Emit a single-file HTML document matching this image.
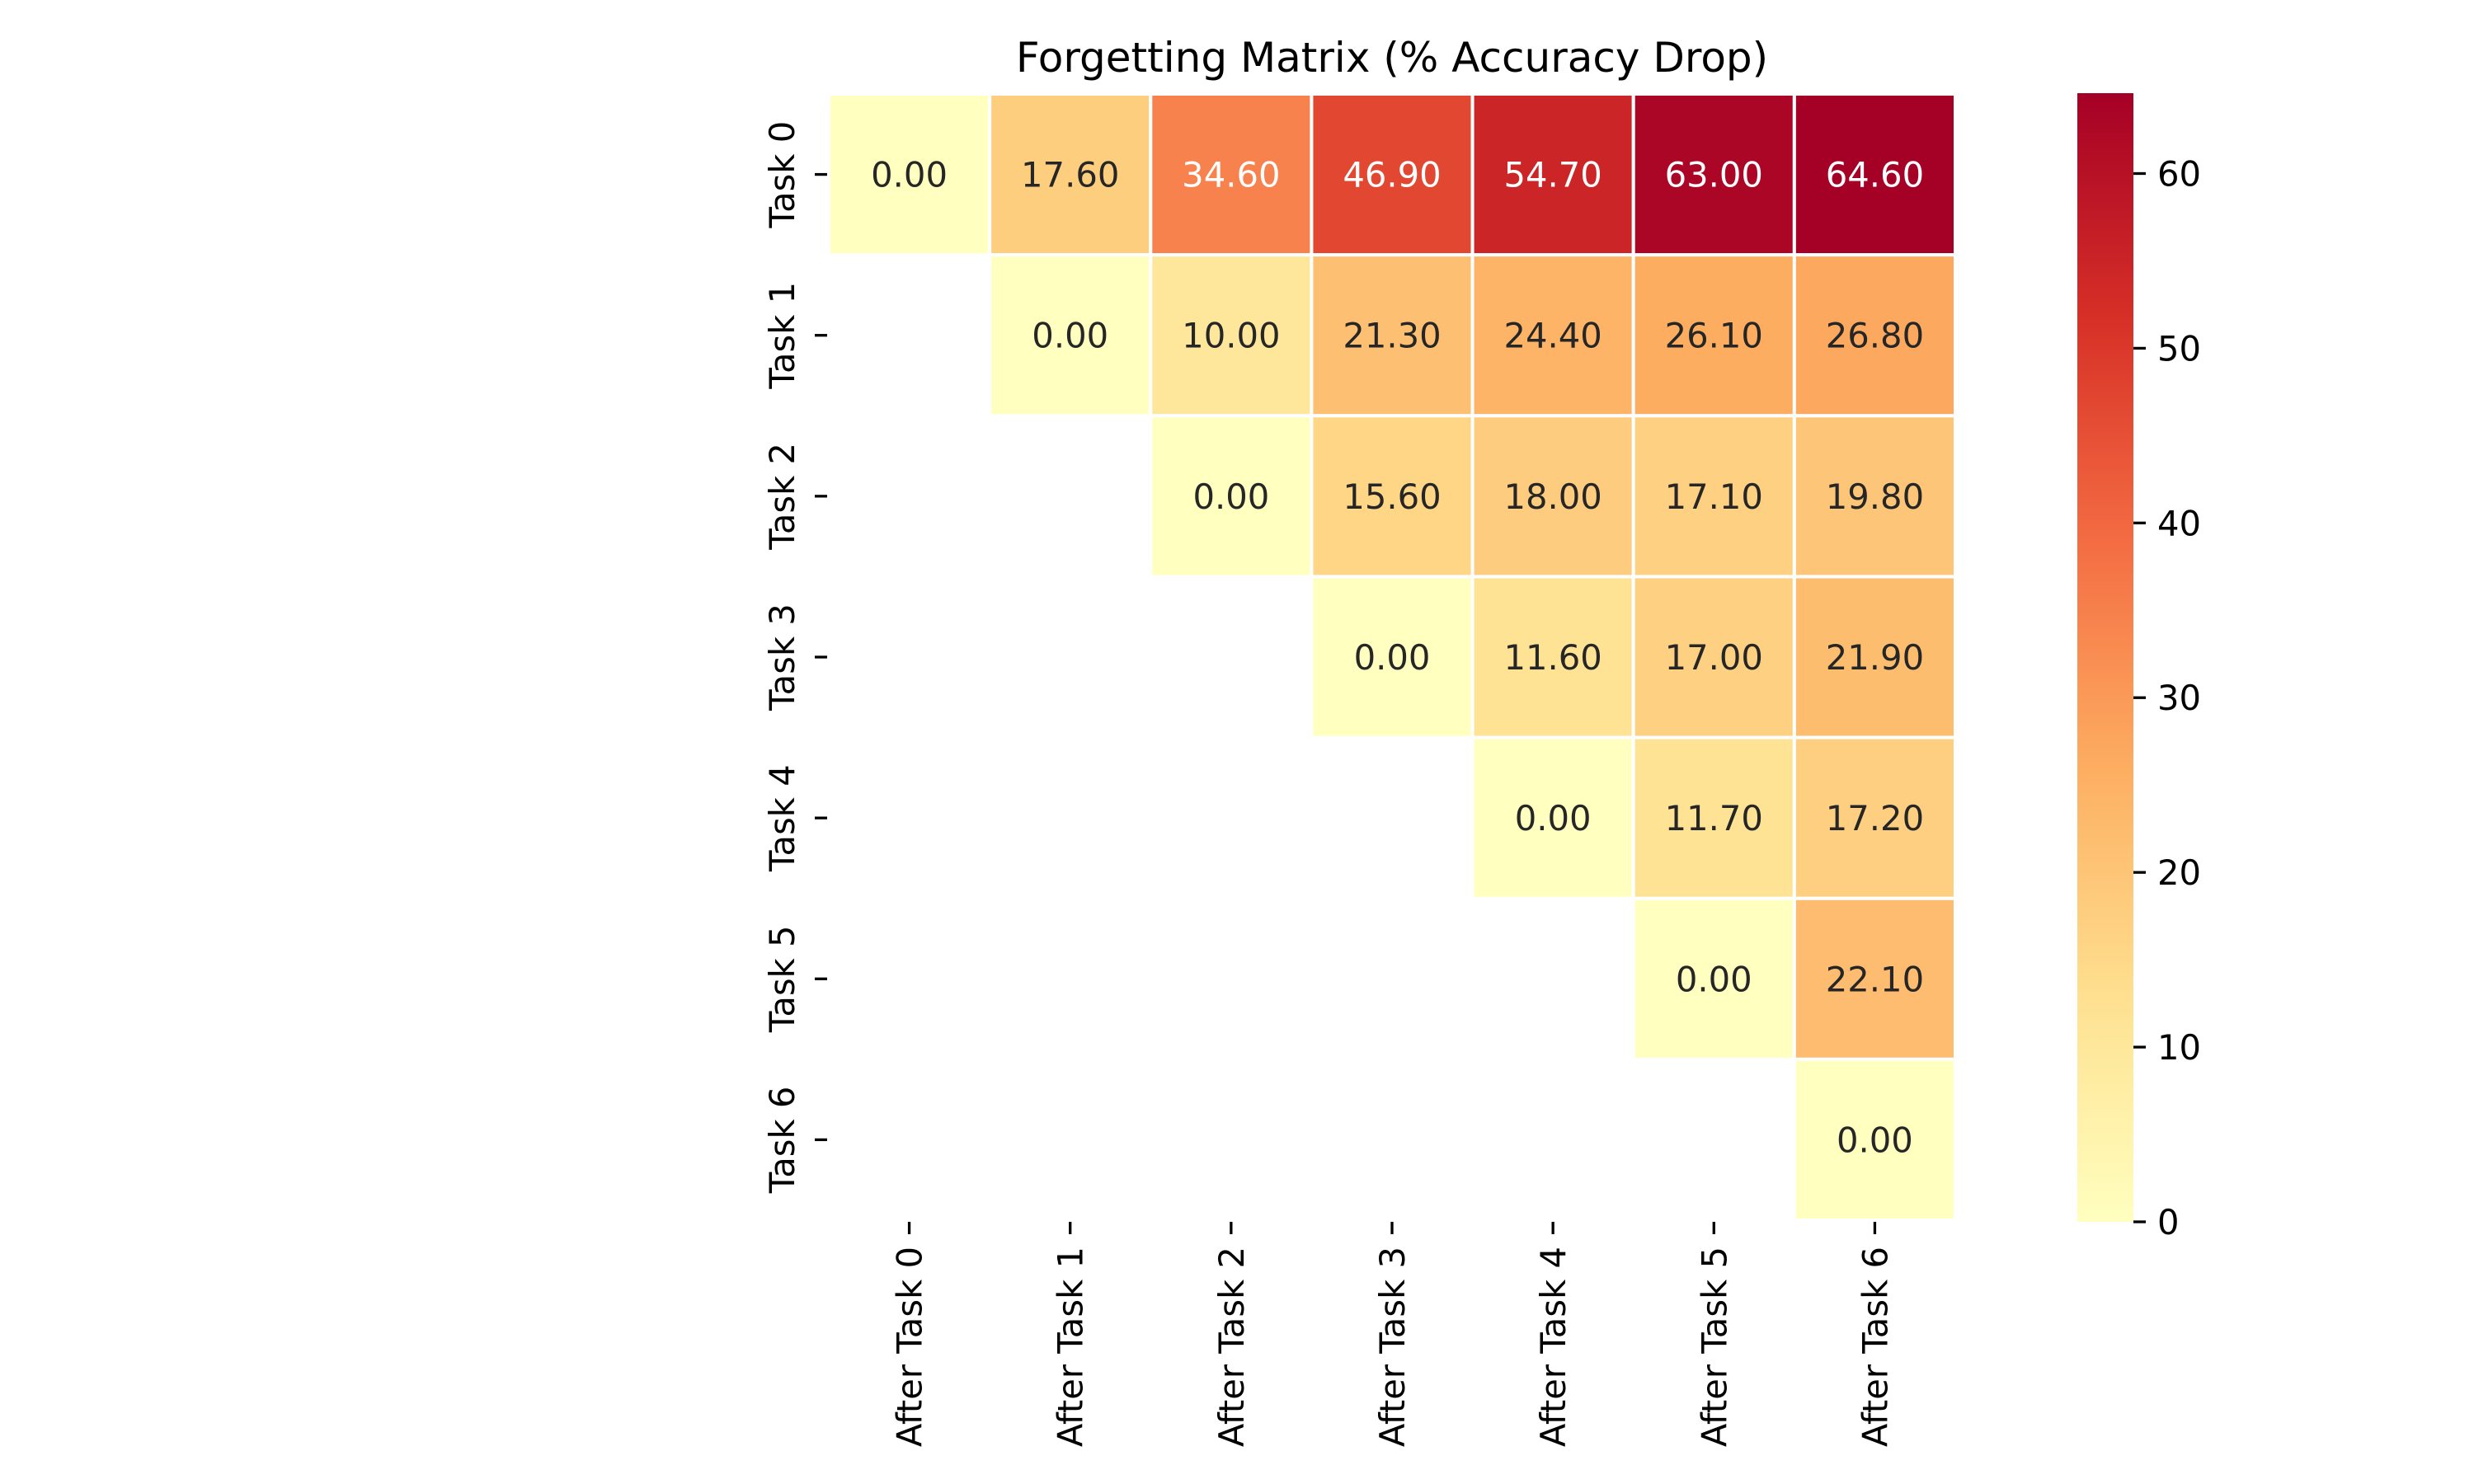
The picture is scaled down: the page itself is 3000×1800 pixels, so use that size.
<!DOCTYPE html>
<html><head><meta charset="utf-8"><style>
html,body{margin:0;padding:0;background:#fff;}
svg{display:block;font-family:"DejaVu Sans","Liberation Sans",sans-serif;}
</style></head><body>
<svg id="chart" width="3000" height="1800" viewBox="0 0 3000 1800" xmlns="http://www.w3.org/2000/svg">
<rect width="3000" height="1800" fill="#fff"/>
<text x="1688" y="87" font-size="50" text-anchor="middle" fill="#000">Forgetting Matrix (% Accuracy Drop)</text>
<g id="cells"></g>
<g id="yaxis"></g>
<g id="xaxis"></g>
<defs><linearGradient id="cbgrad" x1="0" y1="1" x2="0" y2="0"></linearGradient></defs>
<rect id="cbar" x="2519" y="113" width="68" height="1369" fill="url(#cbgrad)"/>
<g id="cbaxis"></g>
</svg>
<script>
const rowLabels = ["Task 0","Task 1","Task 2","Task 3","Task 4","Task 5","Task 6"];
const colLabels = ["After Task 0","After Task 1","After Task 2","After Task 3","After Task 4","After Task 5","After Task 6"];
const row0 = [0.00,17.60,34.60,46.90,54.70,63.00,64.60];
const row1 = [null,0.00,10.00,21.30,24.40,26.10,26.80];
const row2 = [null,null,0.00,15.60,18.00,17.10,19.80];
const row3 = [null,null,null,0.00,11.60,17.00,21.90];
const row4 = [null,null,null,null,0.00,11.70,17.20];
const row5 = [null,null,null,null,null,0.00,22.10];
const row6 = [null,null,null,null,null,null,0.00];
const matrix = [row0,row1,row2,row3,row4,row5,row6];
const cbTicks = [0,10,20,30,40,50,60];

const NS = "http://www.w3.org/2000/svg";
const L = 1005, T = 114, R = 2371, B = 1480;
const cw = (R - L) / colLabels.length, ch = (B - T) / rowLabels.length;
let vmax = 0;
matrix.forEach(r => r.forEach(v => { if (v !== null && v > vmax) vmax = v; }));
const vmin = 0;
const stops = ["#ffffbf","#fee090","#fdae61","#f46d43","#d73027","#a50026"];
function hex(h){return [1,3,5].map(i=>parseInt(h.substr(i,2),16));}
function cmap(t){
  t = Math.max(0, Math.min(1, t));
  const p = t * (stops.length - 1), i = Math.min(Math.floor(p), stops.length - 2), f = p - i;
  const a = hex(stops[i]), b = hex(stops[i+1]);
  return a.map((c,k)=>Math.round(c + (b[k]-c)*f));
}
function lum(rgb){
  const c = rgb.map(v=>{v/=255;return v<=0.03928?v/12.92:Math.pow((v+0.055)/1.055,2.4);});
  return 0.2126*c[0]+0.7152*c[1]+0.0722*c[2];
}
const xs = i => L + i * cw, ys = j => T + j * ch;
const cbY = v => 1482 - (v - vmin) / (vmax - vmin) * 1369;

function mk(tag, attrs, parent){const e=document.createElementNS(NS,tag);for(const k in attrs)e.setAttribute(k,attrs[k]);parent.appendChild(e);return e;}

const cells = document.getElementById('cells');
matrix.forEach((row, j) => row.forEach((v, i) => {
  if (v === null) return;
  const rgb = cmap((v - vmin) / (vmax - vmin));
  const r = mk('rect', {x: xs(i), y: ys(j), width: cw, height: ch, fill: `rgb(${rgb})`, stroke: '#fff', 'stroke-width': 4}, cells);
  
  
  const t = mk('text', {x: xs(i) + cw/2, y: ys(j) + ch/2 + 15, 'font-size': 41.7, 'text-anchor': 'middle', fill: lum(rgb) < 0.408 ? '#fff' : '#262626'}, cells);
  t.textContent = v.toFixed(2);
  
  
}));

const ya = document.getElementById('yaxis');
rowLabels.forEach((lab, j) => {
  const cy = ys(j) + ch/2;
  const tk = mk('line', {x1: L - 17, x2: L - 2, y1: cy, y2: cy, stroke: '#000', 'stroke-width': 3.3}, ya);
  
  
  const t = mk('text', {x: 0, y: 0, 'font-size': 41.7, 'text-anchor': 'middle', fill: '#000', transform: `translate(963,${cy}) rotate(-90)`}, ya);
  t.textContent = lab;
  
  
});

const xa = document.getElementById('xaxis');
colLabels.forEach((lab, i) => {
  const cx = xs(i) + cw/2;
  const tk = mk('line', {x1: cx, x2: cx, y1: B + 2, y2: B + 17, stroke: '#000', 'stroke-width': 3.3}, xa);
  
  
  const t = mk('text', {x: 0, y: 0, 'font-size': 41.7, 'text-anchor': 'end', fill: '#000', transform: `translate(${cx + 15},1512) rotate(-90)`}, xa);
  t.textContent = lab;
  
  
});

const grad = document.getElementById('cbgrad');
for (let k = 0; k <= 20; k++) {
  const rgb = cmap(k / 20);
  mk('stop', {offset: (k/20*100) + '%', 'stop-color': `rgb(${rgb})`}, grad);
}
const cba = document.getElementById('cbaxis');
cbTicks.forEach(v => {
  const y = cbY(v);
  const tk = mk('line', {x1: 2587, x2: 2602, y1: y, y2: y, stroke: '#000', 'stroke-width': 3.3}, cba);
  
  
  const t = mk('text', {x: 2616, y: y + 15, 'font-size': 41.7, fill: '#000'}, cba);
  t.textContent = v;
  
  
});
</script>
</body></html>
